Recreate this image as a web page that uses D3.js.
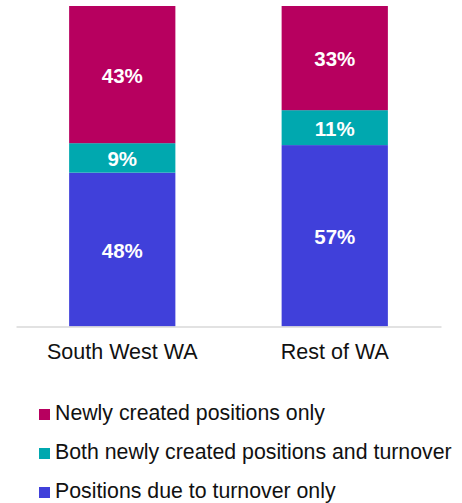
<!DOCTYPE html>
<html>
<head>
<meta charset="utf-8">
<script src="https://cdn.jsdelivr.net/npm/d3@7"></script>
<style>
  body { margin: 0; background: #fff; }
  text { font-family: "Liberation Sans", Arial, sans-serif; }
</style>
</head>
<body>
<div id="plot"></div>
<script>

// data

  var regions = ["South West WA", "Rest of WA"];
  var turnoverOnly = [48.0, 56.6];
  var bothNewAndTurnover = [9.2, 10.9];
  var newlyCreatedOnly = [42.8, 32.5];

  var seriesNames = ["Positions due to turnover only", "Both newly created positions and turnover", "Newly created positions only"];
  var seriesColors = ["#4040DA", "#00A8AF", "#B7005F"];

  var w = 462;
  var h = 503;

  var rows = regions.map((r, i) => ({
      region: r,
      s0: turnoverOnly[i],
      s1: bothNewAndTurnover[i],
      s2: newlyCreatedOnly[i]
  }));

  var stack = d3.stack().keys(["s0", "s1", "s2"]);
  var stacked = stack(rows);

  var xScale = d3.scaleBand()
      .domain(regions)
      .range([16, 441])
      .paddingInner(0.5)
      .paddingOuter(0.25);

  var yScale = d3.scaleLinear()
      .domain([0, 100])
      .range([326.5, 6]);

  var svg = d3.select("div#plot")
    .append("svg")
      .attr("width", w)
      .attr("height", h);

// bars

  var layers = svg.append("g")
    .selectAll("g")
      .data(stacked)
    .enter().append("g")
      .attr("fill", (d, i) => seriesColors[i]);

  layers.selectAll("rect")
      .data(d => d)
    .enter().append("rect")
      .attr("x", d => xScale(d.data.region))
      .attr("y", d => yScale(d[1]))
      .attr("width", xScale.bandwidth())
      .attr("height", d => yScale(d[0]) - yScale(d[1]));

  layers.selectAll("text")
      .data(d => d)
    .enter().append("text")
      .attr("x", d => xScale(d.data.region) + xScale.bandwidth() / 2)
      .attr("y", d => (yScale(d[0]) + yScale(d[1])) / 2)
      .attr("dy", "0.4em")
      .attr("text-anchor", "middle")
      .attr("fill", "#fff")
      .attr("font-weight", "bold")
      .attr("font-size", "20.5px")
      .text(d => Math.round(d[1] - d[0]) + "%");

// x axis

  var xAxis = d3.axisBottom(xScale)
      .tickSize(0)
      .tickPadding(17);

  var gx = svg.append("g")
      .attr("transform", "translate(0, 326.5)")
      .call(xAxis);

  gx.select(".domain")
      .attr("stroke", "#d9d9d9")
      .attr("stroke-width", 1.5);

  gx.selectAll("text")
      .attr("font-size", "21.5px")
      .attr("fill", "#111")
      .style("font-family", "'Liberation Sans', Arial, sans-serif");

// legend

  var legendOrder = [2, 1, 0];

  var legend = svg.append("g")
    .selectAll("g")
      .data(legendOrder)
    .enter().append("g")
      .attr("transform", (d, i) => `translate(39, ${420 + i * 39})`);

  legend.append("rect")
      .attr("x", 0)
      .attr("y", -11)
      .attr("width", 11)
      .attr("height", 11)
      .attr("fill", d => seriesColors[d]);

  legend.append("text")
      .attr("x", 16)
      .attr("y", 0)
      .attr("font-size", "21.3px")
      .attr("fill", "#111")
      .text(d => seriesNames[d]);

</script>
</body>
</html>
